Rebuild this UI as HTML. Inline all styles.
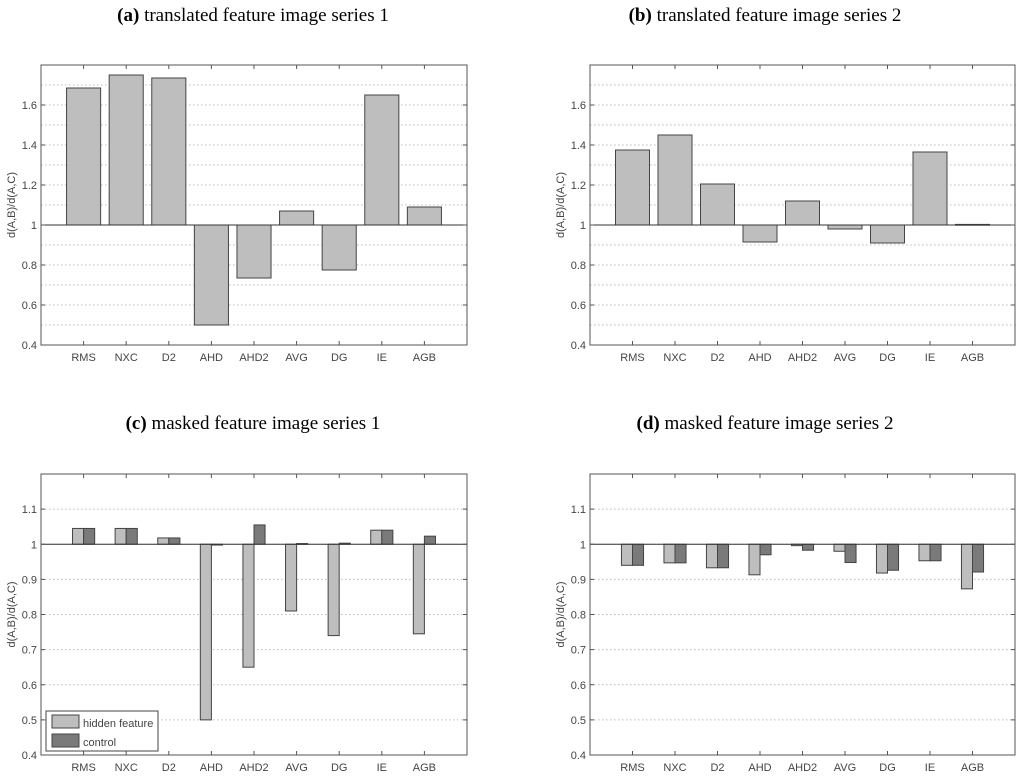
<!DOCTYPE html>
<html><head><meta charset="utf-8"><style>
body{margin:0;background:#fff;width:1024px;height:781px;overflow:hidden}
svg{display:block}
text{font-family:"Liberation Sans",sans-serif;fill:#444}
.t{font-family:"Liberation Serif",serif;fill:#000;font-size:19px}
</style></head><body>
<svg id="c" width="1024" height="781" viewBox="0 0 1024 781">
<text class="t" x="253" y="21" text-anchor="middle"><tspan font-weight="bold">(a)</tspan> translated feature image series 1</text>
<text class="t" x="765" y="21" text-anchor="middle"><tspan font-weight="bold">(b)</tspan> translated feature image series 2</text>
<text class="t" x="253" y="429" text-anchor="middle"><tspan font-weight="bold">(c)</tspan> masked feature image series 1</text>
<text class="t" x="765" y="429" text-anchor="middle"><tspan font-weight="bold">(d)</tspan> masked feature image series 2</text>
</svg>
<script>
const categories=["RMS","NXC","D2","AHD","AHD2","AVG","DG","IE","AGB"];
const seriesA=[1.685,1.75,1.735,0.50,0.735,1.07,0.775,1.65,1.09];
const seriesB=[1.375,1.45,1.205,0.915,1.12,0.98,0.91,1.365,1.003];
const hiddenC=[1.045,1.045,1.018,0.50,0.65,0.81,0.74,1.04,0.745];
const controlC=[1.045,1.045,1.018,1.0,1.055,1.002,1.003,1.04,1.023];
const hiddenD=[0.94,0.947,0.933,0.913,0.996,0.98,0.918,0.953,0.873];
const controlD=[0.94,0.947,0.933,0.97,0.983,0.948,0.926,0.953,0.921];
const ticksTop=["0.4","0.6","0.8","1","1.2","1.4","1.6"];
const ticksBot=["0.4","0.5","0.6","0.7","0.8","0.9","1","1.1"];
const NS="http://www.w3.org/2000/svg";
const svg=document.getElementById('c');
function mk(tag,attrs,parent){const e=document.createElementNS(NS,tag);for(const k in attrs)e.setAttribute(k,attrs[k]);(parent||svg).appendChild(e);return e;}
function panel(name,x0,x1,y0,y1,ymin,ymax,ticks,series,colors,legend){
  const g=mk('g',{});
  
  
  const sx=v=>x0+(x1-x0)*v/10;
  const sy=v=>y1-(y1-y0)*(v-ymin)/(ymax-ymin);
  // grid every 0.1
  for(let v=ymin+0.1;v<ymax-0.001;v+=0.1){
    const l=mk('line',{x1:x0,x2:x1,y1:sy(v),y2:sy(v),stroke:'#bbb','stroke-dasharray':'1.5,2.5','stroke-width':1},g);
    
    
  }
  const nb=series.length, bw=nb==1?0.8:0.26;
  series.forEach((vals,si)=>{
    vals.forEach((v,i)=>{
      const c=sx(i+1+(nb==1?0:(si-0.5)*bw));
      const ya=sy(Math.max(v,1)),yb=sy(Math.min(v,1));
      const r=mk('rect',{x:c-(x1-x0)*bw/20,y:ya,width:(x1-x0)*bw/10,height:Math.max(yb-ya,0.8),fill:colors[si],stroke:'#444','stroke-width':1},g);
      
      
    });
  });
  mk('line',{x1:x0,x2:x1,y1:sy(1),y2:sy(1),stroke:'#333','stroke-width':1},g);
  const f=mk('rect',{x:x0,y:y0,width:x1-x0,height:y1-y0,fill:'none',stroke:'#555','stroke-width':1},g);
  
  
  ticks.forEach(t=>{
    const y=sy(parseFloat(t));
    mk('line',{x1:x0,x2:x0+4,y1:y,y2:y,stroke:'#555'},g);
    mk('line',{x1:x1,x2:x1-4,y1:y,y2:y,stroke:'#555'},g);
    const tx=mk('text',{x:x0-4,y:y+4,'text-anchor':'end','font-size':11},g);
    tx.textContent=t;
    
    
  });
  categories.forEach((c,i)=>{
    const x=sx(i+1);
    mk('line',{x1:x,x2:x,y1:y1,y2:y1-4,stroke:'#555'},g);
    mk('line',{x1:x,x2:x,y1:y0,y2:y0+4,stroke:'#555'},g);
    const tx=mk('text',{x:x,y:y1+16,'text-anchor':'middle','font-size':11},g);
    tx.textContent=c;
    
    
  });
  const yl=mk('text',{x:0,y:0,'text-anchor':'middle','font-size':11,transform:`translate(${x0-26},${(y0+y1)/2}) rotate(-90)`},g);
  yl.textContent='d(A,B)/d(A,C)';
  
  
  if(legend){
    const lg=mk('g',{},g);
    
    
    mk('rect',{x:46,y:711,width:112,height:40,fill:'#fff',stroke:'#444'},lg);
    mk('rect',{x:52,y:715,width:27,height:13,fill:colors[0],stroke:'#444'},lg);
    mk('rect',{x:52,y:734,width:27,height:13,fill:colors[1],stroke:'#444'},lg);
    const a=mk('text',{x:83,y:727,'font-size':11},lg);a.textContent='hidden feature';
    
    
    const b=mk('text',{x:83,y:746,'font-size':11},lg);b.textContent='control';
    
    
  }
}
const L='#bebebe',D='#7a7a7a';
panel('panel-a',41,467,65,345,0.4,1.8,ticksTop,[seriesA],[L]);
panel('panel-b',590,1015,65,345,0.4,1.8,ticksTop,[seriesB],[L]);
panel('panel-c',41,467,474,755,0.4,1.2,ticksBot,[hiddenC,controlC],[L,D],true);
panel('panel-d',590,1015,474,755,0.4,1.2,ticksBot,[hiddenD,controlD],[L,D],false);
</script>
</body></html>
